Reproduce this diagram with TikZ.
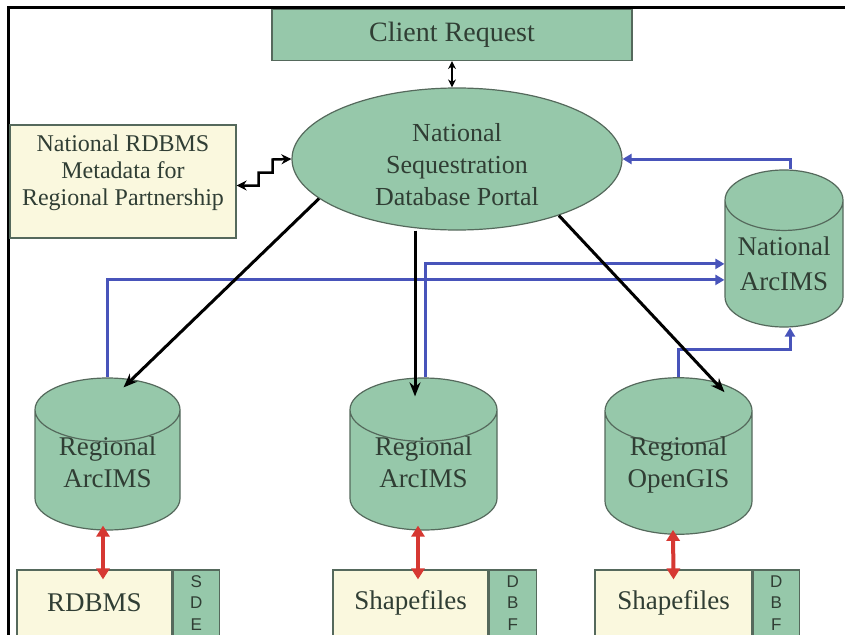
\documentclass[tikz,border=0pt]{standalone}
\usepackage{fontspec}
\setmainfont{Liberation Serif}
\setsansfont{Liberation Sans}
\usetikzlibrary{arrows.meta, shapes.geometric, positioning}

\definecolor{dbgreen}{RGB}{150,200,170}
\definecolor{cream}{RGB}{250,248,222}
\definecolor{edge}{RGB}{85,105,92}
\definecolor{ink}{RGB}{48,62,52}
\definecolor{linkblue}{RGB}{72,84,186}
\definecolor{diskred}{RGB}{214,56,50}

% raise a line of cylinder text, keeping its size
\newcommand{\lift}[1]{\raisebox{8pt}[\height][\depth]{#1}}

\tikzset{
  greenbox/.style={draw=edge, fill=dbgreen, line width=1.2pt, text=ink,
    align=center, inner sep=0pt, font=\fontsize{26}{32}\selectfont},
  creambox/.style={draw=edge, fill=cream, line width=1.2pt, text=ink,
    align=center, inner sep=0pt, font=\fontsize{27}{31}\selectfont},
  tagbox/.style={draw=edge, fill=dbgreen, line width=1.2pt, text=ink,
    align=center, inner sep=0pt, font=\sffamily\fontsize{17}{21.5}\selectfont},
  dbcyl/.style={cylinder, shape border rotate=90, aspect=0.65, draw=edge,
    fill=dbgreen, line width=1.2pt, text=ink, align=center, inner sep=0pt,
    anchor=shape center, font=\fontsize{27}{32}\selectfont},
  callarr/.style={line width=3pt, -{Stealth[length=14pt,width=11pt]}},
  linkarr/.style={draw=linkblue, line width=3pt,
    -{Triangle[length=9pt,width=10pt]}, color=linkblue},
  diskarr/.style={draw=diskred, line width=4pt, color=diskred,
    {Triangle[length=11pt,width=13pt]}-{Triangle[length=11pt,width=13pt]}},
}

\begin{document}
\begin{tikzpicture}[x=1pt, y=1pt]
\useasboundingbox (0,0) rectangle (845,-634);
\clip (0,0) rectangle (845,-634);
\fill[white] (0,0) rectangle (845,-634);
\draw[line width=3pt] (8,-650) -- (8,-8) -- (860,-8);

% top of the portal
\node[greenbox, minimum width=360pt, minimum height=51pt,
  font=\fontsize{28}{32}\selectfont] (client) at (452,-35) {Client Request};
\node[greenbox, ellipse, minimum width=330pt, minimum height=142pt,
  text height=94pt] (portal) at (457,-159) {National\\Sequestration\\Database Portal};
\node[creambox, minimum width=226pt, minimum height=113pt, text depth=23pt,
  font=\fontsize{24}{27}\selectfont] (meta) at (123,-181.5)
  {National RDBMS\\Metadata for\\Regional Partnership};

% map servers
\node[dbcyl, minimum width=118pt, minimum height=157pt,
  font=\fontsize{27}{35}\selectfont] (natims) at (784,-248.5) {National\\ArcIMS};
\node[dbcyl, minimum width=145pt, minimum height=152pt] (regleft)
  at (107.5,-454) {\lift{Regional}\\\lift{ArcIMS}};
\node[dbcyl, minimum width=147pt, minimum height=152pt] (regmid)
  at (423.5,-454) {\lift{Regional}\\\lift{ArcIMS}};
\node[dbcyl, minimum width=147pt, minimum height=152pt] (regright)
  at (678.5,-456) {\lift{Regional}\\\lift{OpenGIS}};

% data stores
\node[creambox, minimum width=155pt, minimum height=66pt] (rdbms)
  at (94.5,-603) {RDBMS};
\node[tagbox, minimum width=46pt, minimum height=66pt, right=0pt of rdbms]
  (sde) {S\\D\\E};
\node[creambox, minimum width=155pt, minimum height=66pt] (shp)
  at (410.5,-603) {Shapefiles};
\node[tagbox, minimum width=47pt, minimum height=66pt, right=0pt of shp]
  (dbfmid) {D\\B\\F};
\node[creambox, minimum width=157pt, minimum height=66pt] (shpgis)
  at (673.5,-603) {Shapefiles};
\node[tagbox, minimum width=46pt, minimum height=66pt, right=0pt of shpgis]
  (dbfgis) {D\\B\\F};

% links
\draw[line width=2pt, {Stealth[length=8pt,width=8pt]}-{Stealth[length=8pt,width=8pt]}]
  (client.south) -- (client.south |- portal.north);
\draw[line width=2.5pt, {Stealth[length=10pt,width=10pt]}-{Stealth[length=10pt,width=10pt]}]
  ([yshift=-4pt]meta.east) -- ++(22,0) -- ++(0,13) -- ++(14,0) -- ++(0,13)
  -- (portal.west);

\draw[linkarr] ([xshift=6pt]natims.north) |- (portal.east);
\draw[linkarr] ([xshift=2pt]regmid.north) |- (natims.west);
\draw[linkarr] (regleft.north) |- ([yshift=-16pt]natims.west);
\draw[linkarr] (regright.north) -- ++(0,28) -| ([xshift=6pt]natims.south);

\draw[callarr] (portal.196) -- ([xshift=16pt,yshift=-10pt]regleft.north);
\draw[callarr] ([xshift=-8.5pt]regmid.north |- portal.south)
  -- ([xshift=-8.5pt,yshift=-19pt]regmid.north);
\draw[callarr] (portal.331) -- ([xshift=46pt,yshift=-15pt]regright.north);

\draw[diskarr] ([xshift=-4.5pt,yshift=5pt]regleft.south)
  -- ([xshift=8.5pt,yshift=-10pt]rdbms.north);
\draw[diskarr] ([xshift=-5.5pt,yshift=5pt]regmid.south)
  -- ([xshift=7.5pt,yshift=-10pt]shp.north);
\draw[diskarr] ([xshift=-5.5pt,yshift=5pt]regright.south)
  -- ([yshift=-10pt]shpgis.north);
\end{tikzpicture}
\end{document}
